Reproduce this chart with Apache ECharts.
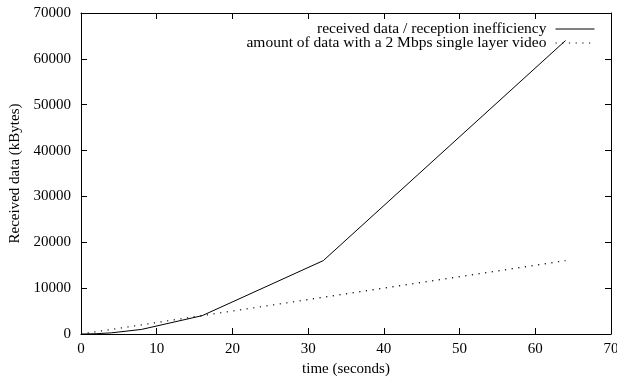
<!DOCTYPE html>
<html>
<head>
<meta charset="utf-8">
<script src="https://cdn.jsdelivr.net/npm/echarts@6/dist/echarts.min.js"></script>
<style>
  html, body { margin: 0; padding: 0; background: #fff; }
  #chart { width: 617px; height: 377px; }
</style>
</head>
<body>
<div id="chart"></div>
<script>
// Time samples (seconds) and received data (kBytes)
const timeSeconds = [0, 2, 4, 8, 16, 32, 64];
const receivedData = [0, 60, 250, 1000, 4000, 16000, 64000];

// Constant-rate reference: 2 Mbps single layer video
const videoTime = [0, 64];
const videoData = [0, 16000];

const seriesNames = [
  'received data / reception inefficiency',
  'amount of data with a 2 Mbps single layer video'
];

const FONT = 'Liberation Serif';
const FS = 15;

const pairs = (xs, ys) => xs.map((x, i) => [x, ys[i]]);

const baseAxisLine = { show: true, onZero: false, lineStyle: { color: '#000', width: 1 } };
const tick = { show: true, inside: true, length: 6, lineStyle: { color: '#000', width: 1 } };

const chart = echarts.init(document.getElementById('chart'), null, { renderer: 'canvas' });
chart.setOption({
  animation: false,
  backgroundColor: '#fff',
  grid: {
    left: 81, right: 6, top: 13, bottom: 43,
    containLabel: false, outerBoundsMode: 'none'
  },
  legend: {
    orient: 'vertical',
    right: 22,
    top: 21,
    align: 'right',
    itemWidth: 39,
    itemHeight: 12,
    itemGap: -2,
    padding: 0,
    itemStyle: { opacity: 0 },
    lineStyle: { width: 1 },
    textStyle: {
      fontFamily: FONT, fontSize: 15.5, color: '#000', lineHeight: 14,
      padding: [0, 4, 0, 0]
    },
    data: seriesNames
  },
  xAxis: [
    {
      type: 'value', min: 0, max: 70, interval: 10,
      position: 'bottom',
      axisLine: baseAxisLine, axisTick: tick,
      splitLine: { show: false },
      axisLabel: { fontFamily: FONT, fontSize: FS, color: '#000', margin: 8 },
      name: 'time (seconds)', nameLocation: 'middle', nameGap: 27,
      nameTextStyle: { fontFamily: FONT, fontSize: FS, color: '#000' }
    },
    {
      type: 'value', min: 0, max: 70, interval: 10,
      position: 'top',
      axisLine: baseAxisLine, axisTick: tick,
      splitLine: { show: false }, axisLabel: { show: false }
    }
  ],
  yAxis: [
    {
      type: 'value', min: 0, max: 70000, interval: 10000,
      position: 'left',
      axisLine: baseAxisLine, axisTick: tick,
      splitLine: { show: false },
      axisLabel: {
        fontFamily: FONT, fontSize: FS, color: '#000', margin: 10,
        formatter: v => String(v)
      },
      name: 'Received data (kBytes)', nameLocation: 'middle', nameGap: 58,
      nameTextStyle: { fontFamily: FONT, fontSize: FS, color: '#000' }
    },
    {
      type: 'value', min: 0, max: 70000, interval: 10000,
      position: 'right',
      axisLine: baseAxisLine, axisTick: tick,
      splitLine: { show: false }, axisLabel: { show: false }
    }
  ],
  series: [
    {
      name: seriesNames[0],
      type: 'line',
      data: pairs(timeSeconds, receivedData),
      symbol: 'none',
      lineStyle: { color: '#000', width: 1 },
      itemStyle: { color: '#000' }
    },
    {
      name: seriesNames[1],
      type: 'line',
      data: pairs(videoTime, videoData),
      symbol: 'none',
      lineStyle: { color: '#000', width: 1.2, type: [1.2, 5.5] },
      itemStyle: { color: '#000' }
    }
  ]
});
</script>
</body>
</html>
